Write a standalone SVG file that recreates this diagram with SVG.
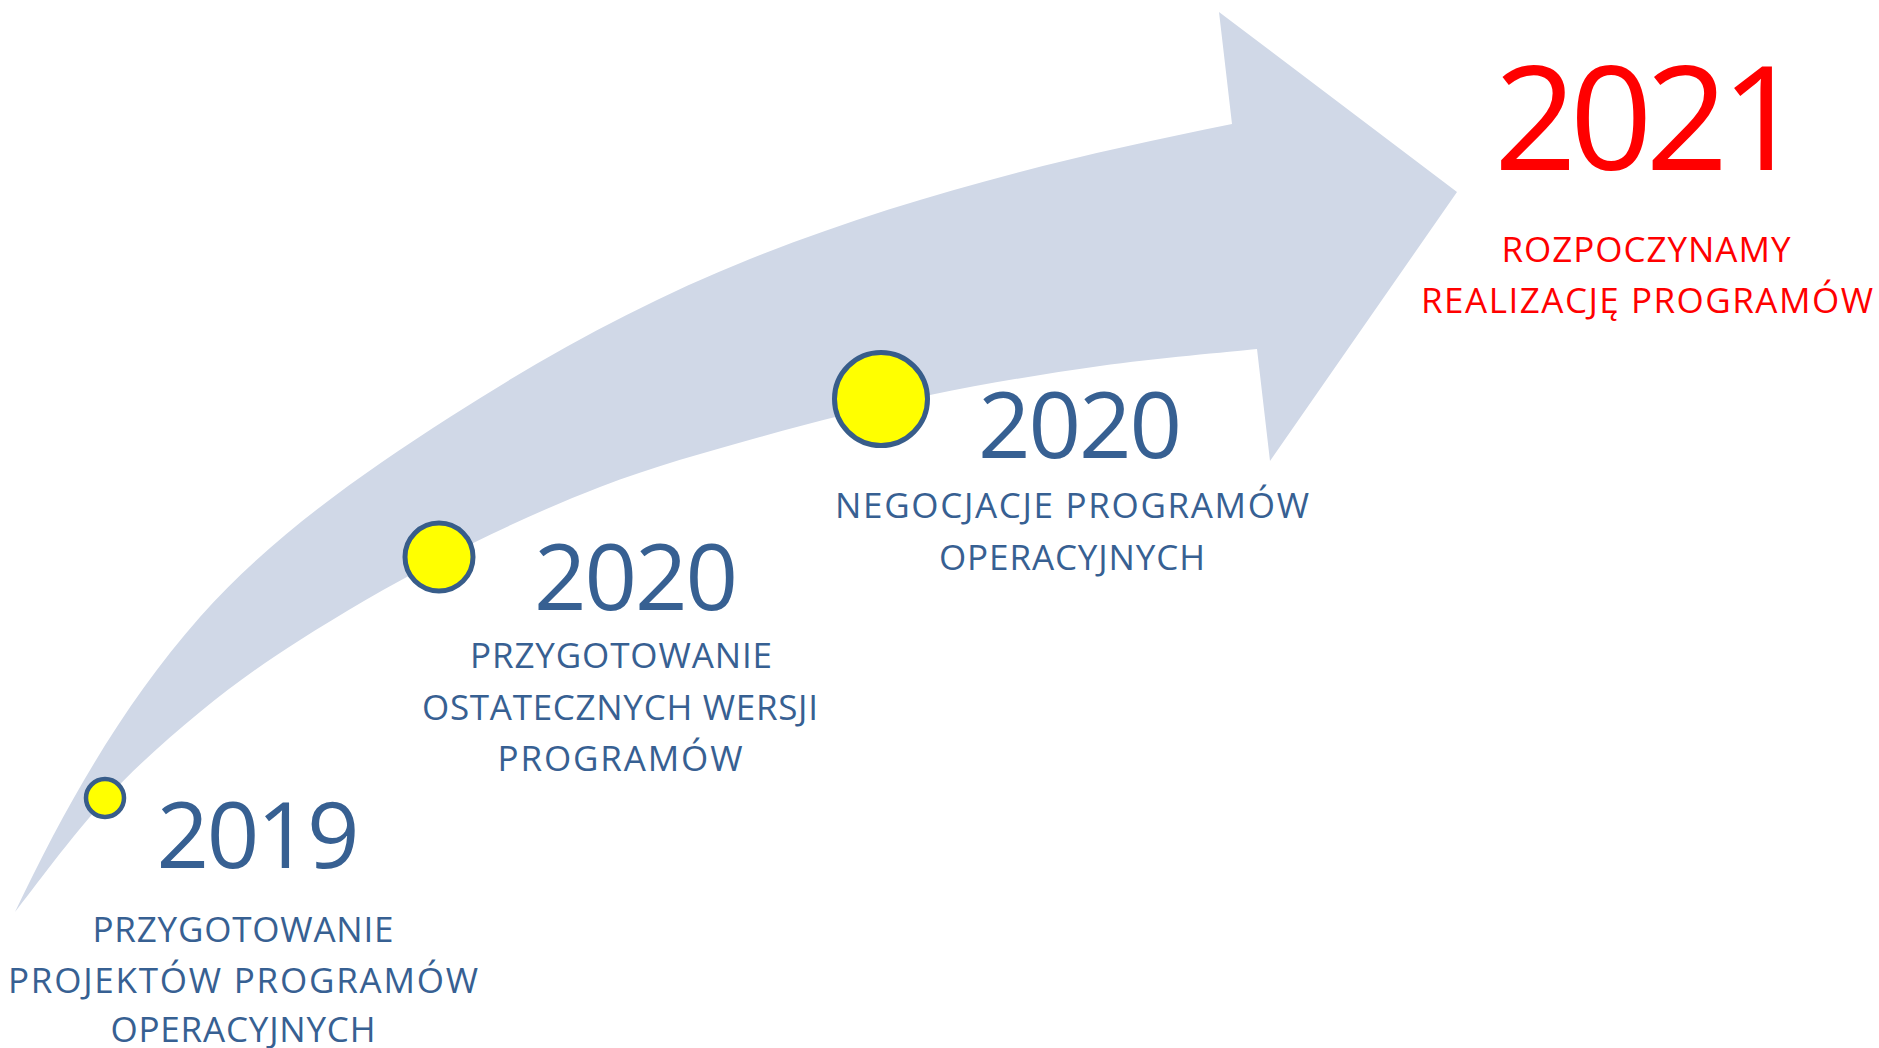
<svg xmlns="http://www.w3.org/2000/svg" width="1879" height="1048" viewBox="0 0 1879 1048">
<style>
.yr{font-family:"Open Sans","Liberation Sans",sans-serif;fill:#376092;text-anchor:middle}
.big{font-size:92px}
.lbl{font-family:"Open Sans","Liberation Sans",sans-serif;font-size:35px;fill:#376092;text-anchor:middle}
.red{fill:#FF0000}
.dot{fill:#FFFF00;stroke:#385D8A;stroke-width:5}
</style>
<rect x="0" y="0" width="1879" height="1048" fill="#FFFFFF"/>
<g id="connectors">
<path id="arrow" fill="#D0D8E7" d="M15,912 C64.9,807.3 123.1,703.9 200,617 C270.9,536.9 360.1,475 450,417 C544.9,355.8 645.1,300.9 750,259 C905,197 1068.2,156.7 1232,124 L1219,12 L1457,192 L1270,461 L1257,349 C1230.8,351.8 1154.5,358.3 1100,366 C1045.5,373.7 986.7,383.2 930,395 C873.3,406.8 815,421.7 760,437 C705,452.3 653.5,466.5 600,487 C546.5,507.5 489,534.5 439,560 C389,585.5 339.8,614.7 300,640 C260.2,665.3 232.5,685.3 200,712 C167.5,738.7 135.8,766.7 105,800 C74,833 30,893 15,912 Z"/>
</g>
<g id="node-2019">
<circle class="dot" cx="105" cy="798" r="19" style="stroke-width:4.5"/>
<text class="yr big" x="258" y="868" textLength="203">2019</text>
<text class="lbl" x="243" y="942" textLength="301">PRZYGOTOWANIE</text>
<text class="lbl" x="243" y="993" textLength="470">PROJEKTÓW PROGRAMÓW</text>
<text class="lbl" x="243" y="1042" textLength="265">OPERACYJNYCH</text>
</g>
<g id="node-2020a">
<circle class="dot" cx="439" cy="557" r="34"/>
<text class="yr big" x="636" y="610" textLength="204">2020</text>
<text class="lbl" x="621" y="668" textLength="302">PRZYGOTOWANIE</text>
<text class="lbl" x="620" y="720" textLength="396">OSTATECZNYCH WERSJI</text>
<text class="lbl" x="620" y="771" textLength="245">PROGRAMÓW</text>
</g>
<g id="node-2020b">
<circle class="dot" cx="881" cy="399" r="46.5"/>
<text class="yr big" x="1080" y="458" textLength="204">2020</text>
<text class="lbl" x="1072" y="518" textLength="474">NEGOCJACJE PROGRAMÓW</text>
<text class="lbl" x="1072" y="570" textLength="266">OPERACYJNYCH</text>
</g>
<g id="node-2021">
<text class="yr red" x="1649" y="170" style="font-size:145px" textLength="310">2021</text>
<text class="lbl red" x="1646" y="262" textLength="289">ROZPOCZYNAMY</text>
<text class="lbl red" x="1647" y="313" textLength="452">REALIZACJĘ PROGRAMÓW</text>
</g>
</svg>
